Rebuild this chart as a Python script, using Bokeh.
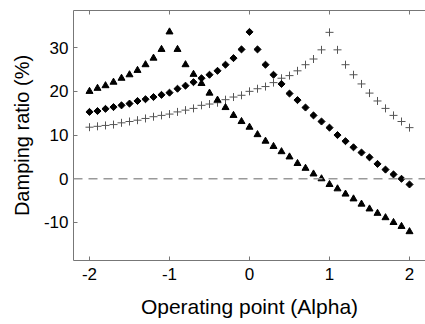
from bokeh.plotting import figure
from bokeh.models import LinearAxis, FixedTicker, Span, ColumnDataSource, PrintfTickFormatter
from bokeh.embed import file_html
from bokeh.resources import INLINE
import math

# Operating point (Alpha), step 0.1
alpha = [round(-2.0 + 0.1 * i, 1) for i in range(41)]

# Damping ratio (%) for the three modes
damping_triangle = [
    20.0, 20.7, 21.3, 22.1, 23.0, 23.8, 24.8, 26.1, 27.6, 29.6, 33.6,
    29.6, 26.1, 23.9, 21.8, 19.6, 18.0, 16.3, 14.5, 13.1, 11.8,
    10.1, 8.6, 7.4, 6.2, 5.0, 3.5, 2.4, 1.1, 0.0, -1.3,
    -2.3, -3.5, -4.6, -5.8, -6.9, -7.9, -8.9, -10.0, -10.9, -12.1,
]
damping_diamond = [
    15.3, 15.5, 16.0, 16.4, 16.8, 17.2, 17.8, 18.2, 18.7, 19.2, 19.7,
    20.6, 21.3, 22.1, 23.0, 23.8, 24.7, 26.1, 27.6, 29.6, 33.6,
    29.6, 26.1, 23.8, 21.7, 19.5, 18.0, 16.3, 14.5, 13.1, 11.7,
    10.0, 8.6, 7.2, 6.0, 4.9, 3.4, 2.1, 1.0, 0.0, -1.3,
]
damping_plus = [
    11.8, 12.0, 12.2, 12.4, 12.8, 13.1, 13.4, 13.8, 14.2, 14.5, 14.8,
    15.3, 15.7, 16.1, 16.8, 17.1, 17.4, 18.1, 18.7, 19.1, 20.0,
    20.6, 21.1, 22.0, 23.0, 23.6, 24.7, 26.1, 27.4, 29.5, 33.5,
    29.5, 26.1, 23.8, 21.7, 19.6, 17.8, 16.1, 14.5, 13.1, 11.7,
]

x_ticks = [-2, -1, 0, 1, 2]
y_ticks = [-10, 0, 10, 20, 30]

FONT = "Liberation Sans"
AXIS_COLOR = "#777777"

p = figure(
    width=425, height=324,
    x_range=(-2.2, 2.2), y_range=(-18.7, 38.5),
    output_backend="svg", toolbar_location=None,
    min_border_left=73, min_border_right=0,
    min_border_top=10, min_border_bottom=64,
)
p.outline_line_color = None
p.grid.visible = False
p.background_fill_color = "white"
p.border_fill_color = "white"

src = ColumnDataSource(dict(
    alpha=alpha, tri=damping_triangle, dia=damping_diamond, plus=damping_plus,
))

# zero reference line
p.add_layout(Span(location=0, dimension="width", line_color="#999999",
                  line_width=1.5, line_dash="9 6"))

p.scatter("alpha", "plus", source=src, marker="cross", size=8,
          line_color="#555555", line_width=1)
p.scatter("alpha", "dia", source=src, marker="square", angle=math.pi / 4,
          size=5, fill_color="black", line_color="black")
p.scatter("alpha", "tri", source=src, marker="triangle", size=7,
          fill_color="black", line_color="black")

for ax in (p.xaxis[0], p.yaxis[0]):
    ax.axis_line_color = AXIS_COLOR
    ax.major_tick_line_color = AXIS_COLOR
    ax.minor_tick_line_color = None
    ax.major_tick_in = 4
    ax.major_tick_out = 0
    ax.formatter = PrintfTickFormatter(format="%d")
    ax.major_label_text_font = FONT
    ax.major_label_text_font_size = "17px"
    ax.major_label_text_color = "black"
    ax.axis_label_text_font = FONT
    ax.axis_label_text_font_style = "normal"
    ax.axis_label_text_color = "black"

p.xaxis[0].ticker = FixedTicker(ticks=x_ticks)
p.yaxis[0].ticker = FixedTicker(ticks=y_ticks)
p.xaxis[0].axis_label = "Operating point (Alpha)"
p.yaxis[0].axis_label = "Damping ratio (%)"
p.xaxis[0].axis_label_text_font_size = "21px"
p.yaxis[0].axis_label_text_font_size = "20px"
p.xaxis[0].major_label_standoff = 7
p.yaxis[0].major_label_standoff = 5
p.xaxis[0].axis_label_standoff = 12
p.yaxis[0].axis_label_standoff = 8

# box top with inward ticks, no labels
top = LinearAxis(ticker=FixedTicker(ticks=x_ticks))
top.axis_line_color = AXIS_COLOR
top.major_tick_line_color = AXIS_COLOR
top.minor_tick_line_color = None
top.major_tick_in = 4
top.major_tick_out = 0
top.major_label_text_color = None
top.major_label_text_font_size = "1px"
top.major_label_standoff = 0
p.add_layout(top, "above")

open("out.html", "w").write(file_html(p, INLINE))
